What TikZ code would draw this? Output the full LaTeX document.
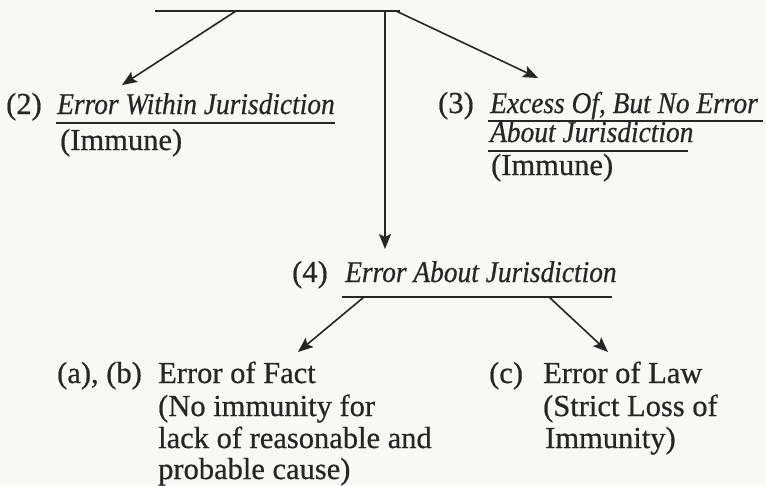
\documentclass[tikz,border=0pt]{standalone}
\usepackage{fontspec}
\setmainfont{Liberation Serif}[FakeBold=0.6]
\usetikzlibrary{arrows.meta}
\definecolor{ink}{HTML}{262626}
\definecolor{paper}{HTML}{F8F8F6}
\newcommand{\tallit}[1]{\scalebox{1}[1.1]{#1}}
\tikzset{
  rm/.style={anchor=base west, inner sep=0pt, text=ink, font=\fontsize{30.5}{33}\selectfont},
  it/.style={anchor=base west, inner sep=0pt, text=ink, font=\fontsize{27.4}{30}\selectfont\itshape},
  rule/.style={draw=ink, line width=1.8pt},
  conn/.style={draw=ink, line width=1.6pt, -{Stealth[length=15pt,width=12pt,inset=3pt]}},
}
\begin{document}
\begin{tikzpicture}[x=1pt,y=-1pt]
\fill[paper] (0,0) rectangle (766,485);
\useasboundingbox (0,0) rectangle (766,485);

% top rule
\coordinate (topL) at (155,11);
\coordinate (topR) at (400,11);
\draw[rule] (topL) -- (topR);
\coordinate (s2) at (236,11);
\coordinate (s4) at (385,11);
\coordinate (s3) at (396,11);

% (2)
\node[rm] (n2num) at (6,114) {(2)};
\node[it] (n2) at (57,114) {\tallit{Error Within Jurisdiction}};
\draw[rule] (56,123) -- (335,123);
\node[rm] (n2imm) at (60,150) {(Immune)};
\coordinate (t2) at (122,85);

% (3)
\node[rm] (n3num) at (438,113) {(3)};
\node[it] (n3a) at (490,113) {\tallit{Excess Of, But No Error}};
\draw[rule] (488,121) -- (763,121);
\node[it] (n3b) at (490,142) {\tallit{About Jurisdiction}};
\draw[rule] (488,151) -- (688,151);
\node[rm] (n3imm) at (491,175) {(Immune)};
\coordinate (t3) at (538,78);

% (4)
\coordinate (t4) at (385,249);
\node[rm] (n4num) at (292,282) {(4)};
\node[it] (n4) at (345,282) {\tallit{Error About Jurisdiction}};
\draw[rule] (342,297) -- (612,297);
\coordinate (s5) at (364,297);
\coordinate (s6) at (549,297);
\coordinate (t5) at (298,352);
\coordinate (t6) at (608,352);

% (a),(b)
\node[rm] (nabnum) at (57,383) {(a), (b)};
\node[rm] (nab) at (158,383) {Error of Fact};
\node[rm] (nab1) at (158,416) {(No immunity for};
\node[rm] (nab2) at (158,448) {lack of reasonable and};
\node[rm] (nab3) at (158,479) {probable cause)};

% (c)
\node[rm] (ncnum) at (489,383) {(c)};
\node[rm] (nc) at (543,383) {Error of Law};
\node[rm] (nc1) at (543,416) {(Strict Loss of};
\node[rm] (nc2) at (545,448) {Immunity)};

% connectors
\draw[conn] (s2) -- (t2);
\draw[conn] (s4) -- (t4);
\draw[conn] (s3) -- (t3);
\draw[conn] (s5) -- (t5);
\draw[conn] (s6) -- (t6);
\end{tikzpicture}
\end{document}
